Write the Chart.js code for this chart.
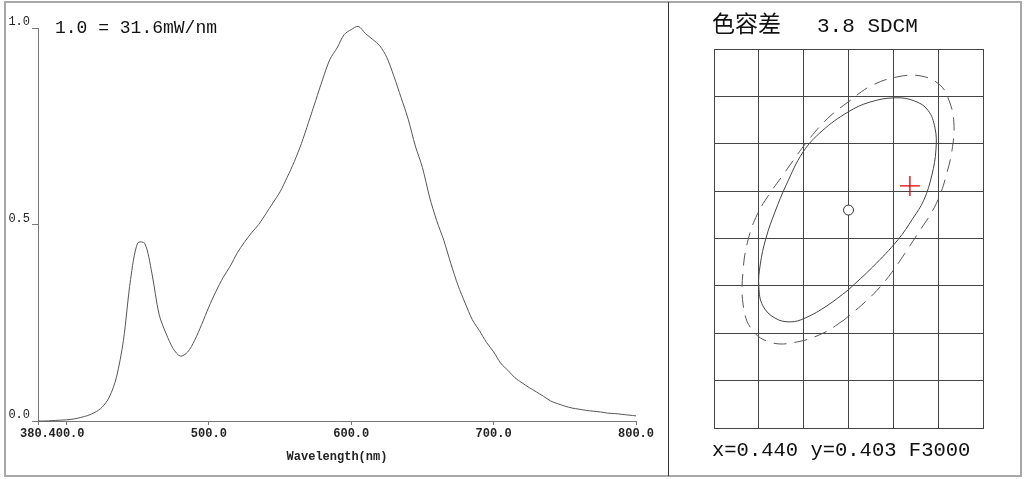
<!DOCTYPE html>
<html>
<head>
<meta charset="utf-8">
<script src="https://cdn.jsdelivr.net/npm/chart.js@4.4.1/dist/chart.umd.min.js"></script>
<style>
  html, body { margin: 0; padding: 0; background: #fff; }
  canvas { position: absolute; top: 0; }
  #spd { left: 0; }
  #tol { left: 669px; }
  #frame {
    position: absolute; left: 4px; top: 1px; width: 1018px; height: 476px;
    border: 2px solid #a8a8a8; box-sizing: border-box; pointer-events: none;
  }
  #divider { position: absolute; left: 668px; top: 2px; width: 1px; height: 474px; background: #333; }
</style>
</head>
<body>
<canvas id="spd" width="668" height="479"></canvas>
<canvas id="tol" width="356" height="479"></canvas>
<div id="frame"></div>
<div id="divider"></div>
<script>
// spectrum, every 5 nm
const wavelength = [380, 385, 390, 395, 400, 405, 410, 415, 420, 425, 430, 435, 440, 445, 450, 455, 460, 465, 470, 475,
  480, 485, 490, 495, 500, 505, 510, 515, 520, 525, 530, 535, 540, 545, 550, 555, 560, 565, 570, 575,
  580, 585, 590, 595, 600, 605, 610, 615, 620, 625, 630, 635, 640, 645, 650, 655, 660, 665, 670, 675,
  680, 685, 690, 695, 700, 705, 710, 715, 720, 725, 730, 735, 740, 745, 750, 755, 760, 765, 770, 775,
  780, 785, 790, 795, 800];
const intensity = [0, 0, 0.001, 0.002, 0.003, 0.005, 0.009, 0.014, 0.022, 0.035, 0.06, 0.11, 0.205, 0.36, 0.453, 0.452, 0.376, 0.272, 0.222, 0.184,
  0.165, 0.175, 0.205, 0.246, 0.29, 0.33, 0.365, 0.394, 0.428, 0.455, 0.479, 0.50, 0.527, 0.555, 0.583, 0.62, 0.66, 0.706, 0.76, 0.815,
  0.87, 0.92, 0.949, 0.983, 0.996, 1.004, 0.986, 0.971, 0.955, 0.925, 0.877, 0.823, 0.768, 0.70, 0.645, 0.57, 0.51, 0.46, 0.40, 0.345,
  0.30, 0.258, 0.23, 0.20, 0.176, 0.147, 0.129, 0.11, 0.097, 0.085, 0.074, 0.063, 0.051, 0.044, 0.038, 0.033, 0.03, 0.027, 0.025, 0.023,
  0.02, 0.019, 0.017, 0.015, 0.013];
const xTicks = [380, 400, 500, 600, 700, 800];
const yTicks = [0, 0.5, 1.0];
const scaleNote = '1.0 = 31.6mW/nm';

// colour tolerance panel, grid units (6 x 8 cells)
const solidEllipse = [[2.99, 2.91], [2.52, 2.58], [2.03, 2.32], [1.70, 2.24], [1.36, 2.32], [1.09, 2.58], [1.00, 2.98],
  [1.03, 3.44], [1.16, 4.01], [1.36, 4.56], [1.61, 5.13], [1.99, 5.83], [2.41, 6.27], [2.99, 6.67], [3.48, 6.88],
  [4.06, 6.97], [4.48, 6.90], [4.77, 6.71], [4.93, 6.33], [4.95, 5.87], [4.86, 5.34], [4.68, 4.81], [4.44, 4.43],
  [4.10, 3.97], [3.54, 3.40]];
const dashedEllipse = [[2.90, 2.28], [2.45, 2.01], [1.87, 1.82], [1.29, 1.80], [0.85, 2.07], [0.65, 2.60], [0.65, 3.34],
  [0.76, 3.97], [0.96, 4.50], [1.25, 4.96], [1.54, 5.34], [1.85, 5.76], [2.14, 6.12], [2.54, 6.54], [2.99, 6.88],
  [3.50, 7.22], [4.08, 7.41], [4.62, 7.43], [5.04, 7.24], [5.24, 6.92], [5.35, 6.46], [5.31, 5.87], [5.17, 5.30],
  [5.04, 4.92], [4.86, 4.56], [4.60, 4.18], [4.26, 3.69], [3.97, 3.29], [3.64, 2.91], [3.30, 2.60]];
const targetPoint = [3.0, 4.6];
const measuredPoint = [4.37, 5.11];
const tolTitle = '色容差';
const tolValue = '3.8 SDCM';
const tolCoords = 'x=0.440 y=0.403 F3000';

const mono = '"Liberation Mono", "Courier New", monospace';

function toPoints(list) {
  const pts = list.map(p => ({ x: p[0], y: p[1] }));
  pts.push({ x: list[0][0], y: list[0][1] }); // close the loop
  return pts;
}

const notePlugin = {
  id: 'note',
  afterDraw(chart) {
    const ctx = chart.ctx;
    ctx.save();
    ctx.fillStyle = '#111';
    ctx.font = '18px ' + mono;
    ctx.textBaseline = 'alphabetic';
    ctx.fillText(scaleNote, 55, 33);
    ctx.restore();
  }
};

new Chart(document.getElementById('spd'), {
  type: 'line',
  data: {
    datasets: [{
      data: wavelength.map((w, i) => ({ x: w, y: intensity[i] })),
      borderColor: '#555',
      borderWidth: 1,
      pointRadius: 0,
      tension: 0.3,
      clip: false
    }]
  },
  options: {
    responsive: false,
    animation: false,
    layout: { padding: { left: 0, top: 28, right: 32, bottom: 0 } },
    plugins: { legend: { display: false }, tooltip: { enabled: false } },
    scales: {
      x: {
        type: 'linear', min: 380, max: 800,
        afterBuildTicks: s => { s.ticks = xTicks.map(v => ({ value: v })); },
        afterFit: s => { s.height = 58; },
        ticks: {
          autoSkip: false, maxRotation: 0, padding: 2, color: '#222',
          font: { family: mono, size: 12, weight: 'bold' },
          callback: v => v.toFixed(1),
          showLabelBackdrop: c => c.index === 1,
          backdropColor: '#fff',
          backdropPadding: { left: 1, right: 1, top: 1, bottom: 1 }
        },
        grid: { drawOnChartArea: false, tickLength: 4, color: '#777' },
        border: { color: '#777' },
        title: {
          display: true, text: 'Wavelength(nm)', color: '#222',
          font: { family: mono, size: 12, weight: 'bold' },
          padding: { top: 0, bottom: 15 }
        }
      },
      y: {
        min: 0, max: 1,
        afterBuildTicks: s => { s.ticks = yTicks.map(v => ({ value: v })); },
        afterFit: s => { s.width = 38; },
        ticks: {
          padding: 2, labelOffset: -6, color: '#222',
          font: { family: mono, size: 12 },
          callback: v => v.toFixed(1)
        },
        grid: { drawOnChartArea: false, tickLength: 6, color: '#777' },
        border: { color: '#777' }
      }
    }
  },
  plugins: [notePlugin]
});

const tolTextPlugin = {
  id: 'tolText',
  afterDraw(chart) {
    const ctx = chart.ctx;
    ctx.save();
    ctx.fillStyle = '#111';
    ctx.textBaseline = 'alphabetic';
    ctx.font = '23px "Noto Sans CJK SC", sans-serif';
    ctx.fillText(tolTitle, 43, 32);
    ctx.font = '21px ' + mono;
    ctx.fillText(tolValue, 148, 32);
    ctx.font = '20.5px ' + mono;
    ctx.fillText(tolCoords, 43, 456);
    ctx.restore();
  }
};

new Chart(document.getElementById('tol'), {
  type: 'scatter',
  data: {
    datasets: [
      {
        data: toPoints(solidEllipse), showLine: true,
        borderColor: '#444', borderWidth: 1, pointRadius: 0, tension: 0.4
      },
      {
        data: toPoints(dashedEllipse), showLine: true,
        borderColor: '#555', borderWidth: 1, borderDash: [13, 8], pointRadius: 0, tension: 0.4
      },
      {
        data: [{ x: targetPoint[0], y: targetPoint[1] }],
        pointRadius: 5, pointBorderColor: '#333', pointBackgroundColor: '#fff', pointBorderWidth: 1
      },
      {
        data: [{ x: measuredPoint[0], y: measuredPoint[1] }],
        pointStyle: 'cross', pointRadius: 10, pointBorderColor: '#e00000', pointBorderWidth: 1.3
      }
    ]
  },
  options: {
    responsive: false,
    animation: false,
    layout: { padding: { left: 45, top: 49, right: 42, bottom: 51 } },
    plugins: { legend: { display: false }, tooltip: { enabled: false } },
    scales: {
      x: {
        min: 0, max: 6,
        ticks: { display: false, stepSize: 1 },
        grid: { color: '#444', drawTicks: false },
        border: { color: '#444' },
        afterFit: s => { s.height = 0; }
      },
      y: {
        min: 0, max: 8,
        ticks: { display: false, stepSize: 1 },
        grid: { color: '#444', drawTicks: false },
        border: { color: '#444' },
        afterFit: s => { s.width = 0; }
      }
    }
  },
  plugins: [tolTextPlugin]
});
</script>
</body>
</html>
